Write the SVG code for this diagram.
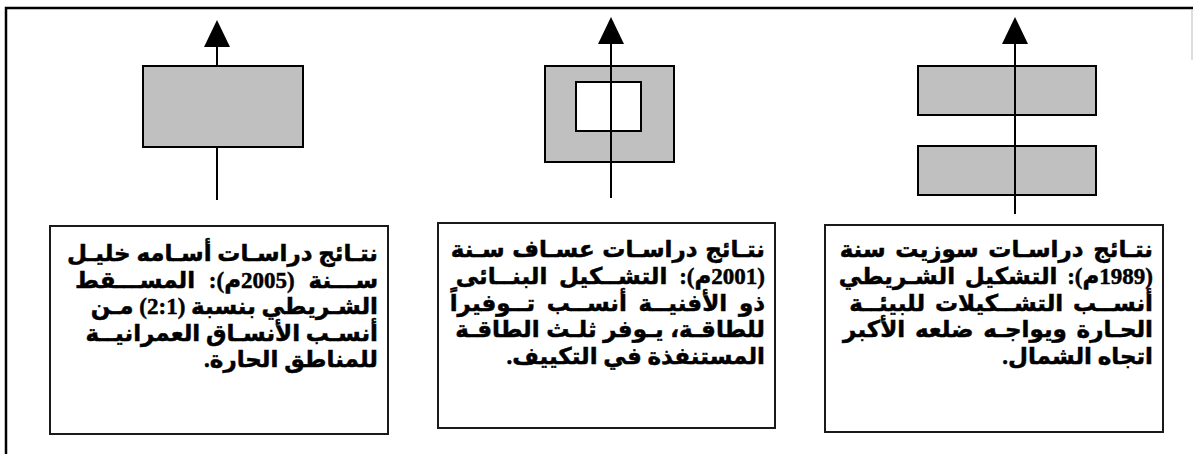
<svg xmlns="http://www.w3.org/2000/svg" width="1193" height="454" viewBox="0 0 1193 454">
  <style>
    .frame { stroke: #000; stroke-width: 2.5; fill: none; }
    .block { fill: #c0c0c0; stroke: #000; stroke-width: 2; }
    .court { fill: #fff; stroke: #000; stroke-width: 2; }
    .axis { stroke: #000; stroke-width: 2; fill: none; marker-end: url(#head); }
    .card { fill: #fff; stroke: #1a1a1a; stroke-width: 2; }
    .txt { font-family: "Liberation Serif", "DejaVu Sans", sans-serif; font-weight: bold; font-size: 23px; fill: #000; stroke: #000; stroke-width: 0.5; direction: rtl; text-anchor: start; }
  </style>
  <defs>
    <marker id="head" viewBox="0 0 27 26" refX="0" refY="13" markerWidth="27" markerHeight="26" markerUnits="userSpaceOnUse" orient="auto">
      <path d="M0,0 L27,13 L0,26 z" fill="#000"/>
    </marker>
  </defs>

  <!-- outer frame -->
  <path class="frame" d="M6,454 L6,8 L1193,8"/>
  <line x1="1192" y1="9" x2="1192" y2="60" stroke="#bbb" stroke-width="1"/>

  <!-- left: single strip block (axis behind) -->
  <g id="connectors-left">
    <line class="axis" x1="217" y1="200" x2="217" y2="47"/>
  </g>
  <g id="plan-strip">
    <rect class="block" x="143" y="66" width="160" height="81"/>
  </g>

  <!-- middle: courtyard block -->
  <g id="plan-courtyard">
    <rect class="block" x="545" y="66" width="129" height="96"/>
    <rect class="court" x="576" y="82" width="65" height="49"/>
  </g>

  <!-- right: two parallel strips -->
  <g id="plan-double-strip">
    <rect class="block" x="918" y="66" width="178" height="49"/>
    <rect class="block" x="918" y="146" width="178" height="49"/>
  </g>

  <g id="connectors">
    <line class="axis" x1="611" y1="198" x2="611" y2="44"/>
    <line class="axis" x1="1015" y1="214" x2="1015" y2="44"/>
  </g>

  <!-- result cards -->
  <g id="card-khalil">
    <rect class="card" x="50" y="226" width="338" height="208"/>
    <text class="txt" x="378" y="261">نتـائج دراسـات أسـامه خليـل</text>
    <text class="txt" x="378" y="288" word-spacing="8">ســـنة (2005م): المســـقط</text>
    <text class="txt" x="378" y="314">الشـريطي بنسبة (2:1) مـن</text>
    <text class="txt" x="378" y="341">أنسـب الأنسـاق العمرانيــة</text>
    <text class="txt" x="378" y="367">للمناطق الحارة.</text>
  </g>

  <g id="card-assaf">
    <rect class="card" x="438" y="223" width="337" height="205"/>
    <text class="txt" x="765" y="257" word-spacing="2">نتـائج دراسـات عسـاف سـنة</text>
    <text class="txt" x="765" y="284" word-spacing="6">(2001م): التشــكيل البنــائى</text>
    <text class="txt" x="765" y="311" word-spacing="6">ذو الأفنيــة أنســب تــوفيراً</text>
    <text class="txt" x="765" y="337" word-spacing="1">للطاقـة، يـوفر ثلـث الطاقـة</text>
    <text class="txt" x="765" y="364">المستنفذة في التكييف.</text>
  </g>

  <g id="card-suzette">
    <rect class="card" x="825" y="225" width="338" height="207"/>
    <text class="txt" x="1153" y="257" word-spacing="4">نتـائج دراسـات سوزيت سنة</text>
    <text class="txt" x="1153" y="284" word-spacing="4">(1989م): التشكيل الشـريطي</text>
    <text class="txt" x="1153" y="311" word-spacing="4">أنســب التشــكيلات للبيئــة</text>
    <text class="txt" x="1153" y="337" word-spacing="4">الحـارة ويواجـه ضلعه الأكبر</text>
    <text class="txt" x="1153" y="364">اتجاه الشمال.</text>
  </g>
</svg>
